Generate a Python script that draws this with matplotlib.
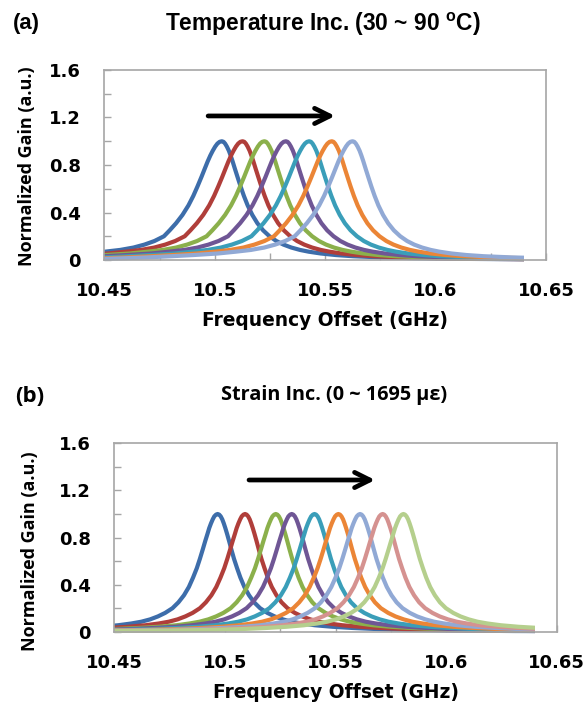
import numpy as np
import matplotlib
matplotlib.use("Agg")
import matplotlib.pyplot as plt
from matplotlib.patches import Rectangle
from matplotlib.ticker import MultipleLocator, FormatStrFormatter

# Peak frequencies of the Brillouin gain spectra (GHz)
temp_centers = [10.5032, 10.5126, 10.5225, 10.5322, 10.5428, 10.5530, 10.5624]
strain_centers = [10.4967, 10.5091, 10.5230, 10.5302, 10.5405, 10.5513,
                  10.5611, 10.5713, 10.5807]

temp_colors = ["#3D6DAA", "#B03E3A", "#8BB04B", "#6F5695", "#3A9EB9",
               "#EB8536", "#91A9D5"]
strain_colors = ["#3D6DAA", "#B03E3A", "#8BB04B", "#6F5695", "#3A9EB9",
                 "#EB8536", "#91A9D5", "#D59290", "#B5CF8D"]

# Measured spectral shape: normalized gain levels and the frequency
# distance (GHz) from the peak at which each level is reached on the
# low- and high-frequency side of the peak.
profile_gain = [1.0, 0.995, 0.98, 0.955, 0.92, 0.88, 0.83, 0.77, 0.70, 0.62,
                0.54, 0.46, 0.38, 0.31, 0.25, 0.20, 0.16, 0.13, 0.105, 0.085,
                0.07, 0.055, 0.042, 0.032, 0.022, 0.015, 0.010, 0.006, 0.003]
temp_low = [0, 0.0010, 0.0020, 0.0030, 0.0041, 0.0052, 0.0064, 0.0077, 0.0092,
            0.0110, 0.0129, 0.0151, 0.0178, 0.0207, 0.0236, 0.0262, 0.0305,
            0.0350, 0.0400, 0.0460, 0.0530, 0.0610, 0.0720, 0.0820, 0.0930,
            0.1030, 0.1120, 0.1350, 0.2000]
temp_high = [0, 0.0008, 0.0015, 0.0023, 0.0032, 0.0040, 0.0049, 0.0059, 0.0071,
             0.0085, 0.0100, 0.0117, 0.0138, 0.0161, 0.0187, 0.0216, 0.0247,
             0.0279, 0.0315, 0.0354, 0.0394, 0.0448, 0.0516, 0.0594, 0.0720,
             0.0875, 0.1075, 0.1390, 0.1970]
strain_low = [0, 0.0007, 0.0015, 0.0022, 0.0030, 0.0038, 0.0046, 0.0056, 0.0067,
              0.0080, 0.0094, 0.0111, 0.0130, 0.0152, 0.0177, 0.0204, 0.0237,
              0.0270, 0.0305, 0.0345, 0.0390, 0.0450, 0.0530, 0.0620, 0.0740,
              0.0880, 0.1060, 0.1350, 0.1950]
strain_high = [0, 0.0007, 0.0014, 0.0021, 0.0028, 0.0035, 0.0043, 0.0052, 0.0062,
               0.0074, 0.0088, 0.0103, 0.0121, 0.0142, 0.0165, 0.0192, 0.0225,
               0.0258, 0.0295, 0.0335, 0.0380, 0.0440, 0.0520, 0.0610, 0.0730,
               0.0870, 0.1050, 0.1340, 0.1950]

f_start, f_stop = 10.45, 10.64
x_ticks = [10.45, 10.5, 10.55, 10.6, 10.65]
y_ticks = [0, 0.4, 0.8, 1.2, 1.6]

TICK_FONT = "DejaVu Sans"
LABEL_FONT = "DejaVu Sans"
YLABEL_FONT = "Open Sans"
GRAY = "#A6A6A6"

plt.rcParams["mathtext.fontset"] = "custom"
plt.rcParams["mathtext.rm"] = "Liberation Sans"
plt.rcParams["mathtext.bf"] = "Liberation Sans:bold"

fig = plt.figure(figsize=(5.88, 7.02), dpi=100)


def spectrum(center, low, high):
    gain = np.asarray(profile_gain)
    x = np.concatenate([center - np.asarray(low)[::-1], center + np.asarray(high)[1:]])
    y = np.concatenate([gain[::-1], gain[1:]])
    return x, y


def draw_panel(rect, centers, colors, low, high, arrow):
    ax = fig.add_axes(rect)
    clip = Rectangle((f_start, -1), f_stop - f_start, 4, transform=ax.transData)
    for c, col in zip(centers, colors):
        x, y = spectrum(c, low, high)
        line, = ax.plot(x, y, color=col, lw=3.0, solid_capstyle="round",
                        solid_joinstyle="round")
        line.set_clip_path(clip)
    ax.set_xlim(x_ticks[0], x_ticks[-1])
    ax.set_ylim(y_ticks[0], y_ticks[-1])
    ax.set_xticks(x_ticks)
    ax.set_yticks(y_ticks)
    ax.xaxis.set_minor_locator(MultipleLocator(0.025))
    ax.yaxis.set_minor_locator(MultipleLocator(0.2))
    ax.xaxis.set_major_formatter(FormatStrFormatter("%g"))
    ax.yaxis.set_major_formatter(FormatStrFormatter("%g"))
    for s in ax.spines.values():
        s.set_color(GRAY)
        s.set_linewidth(1.2)
    ax.tick_params(which="both", direction="in", color=GRAY, width=1.0, length=5)
    ax.tick_params(axis="x", which="major", pad=16)
    ax.tick_params(axis="y", which="major", pad=17)
    for lab in ax.get_xticklabels() + ax.get_yticklabels():
        lab.set_fontfamily(TICK_FONT)
        lab.set_fontweight("bold")
        lab.set_fontsize(13)
    ax.annotate("", xy=(arrow[1], arrow[2]), xytext=(arrow[0], arrow[2]),
                arrowprops=dict(arrowstyle="->,head_length=1.1,head_width=0.55",
                                color="black", lw=3.4, shrinkA=0, shrinkB=0))
    ax.set_xlabel("Frequency Offset (GHz)", fontfamily=LABEL_FONT,
                  fontweight="bold", fontsize=13.4, labelpad=8)
    return ax


ax_a = draw_panel([0.1774, 0.6296, 0.7512, 0.2707], temp_centers, temp_colors,
                  temp_low, temp_high, (10.497, 10.5545, 1.213))
ax_b = draw_panel([0.1944, 0.1001, 0.7524, 0.2683], strain_centers, strain_colors,
                  strain_low, strain_high, (10.5109, 10.5679, 1.289))

fig.text(27 / 588, 1 - 166 / 702, "Normalized Gain (a.u.)", rotation=90,
         ha="center", va="center", fontfamily=YLABEL_FONT, fontweight="bold",
         fontsize=13)
fig.text(30 / 588, 1 - 551 / 702, "Normalized Gain (a.u.)", rotation=90,
         ha="center", va="center", fontfamily=YLABEL_FONT, fontweight="bold",
         fontsize=13)

fig.text(13 / 588, 1 - 24 / 702, "(a)", ha="left", va="center",
         fontfamily="Liberation Sans", fontweight="bold", fontsize=15.8)
fig.text(323 / 588, 1 - 24 / 702, r"Temperature Inc. (30 ~ 90 $^{\mathbf{o}}$C)",
         ha="center", va="center", fontfamily="Liberation Sans",
         fontweight="bold", fontsize=16.4)
fig.text(15 / 588, 1 - 396 / 702, "(b)", ha="left", va="center",
         fontfamily="Open Sans", fontweight="bold", fontsize=16)
fig.text(334 / 588, 1 - 395 / 702, "Strain Inc. (0 ~ 1695 \u03bc\u03b5)",
         ha="center", va="center", fontfamily="Open Sans", fontweight="bold",
         fontsize=14.3)

fig.savefig("out.png", dpi=100)
